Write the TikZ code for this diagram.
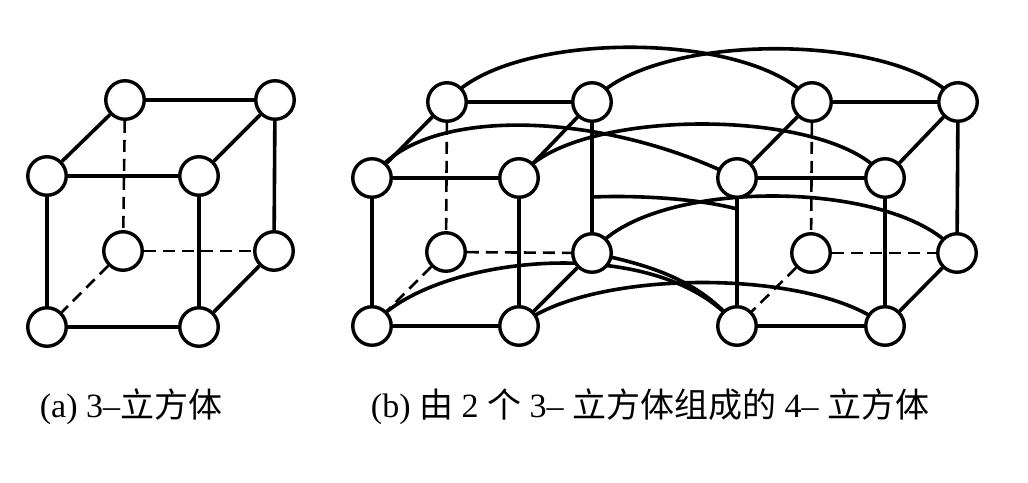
\documentclass[tikz,border=0pt]{standalone}
\usepackage{fontspec}
\setmainfont{Liberation Serif}
\newfontfamily\cjk{Noto Sans CJK SC}
\pgfdeclarelayer{bg}
\pgfsetlayers{bg,main}
\begin{document}
\begin{tikzpicture}[x=1pt,y=-1pt,
  v/.style={circle,draw,fill=white,line width=3.4pt,minimum size=38.5pt,inner sep=0pt},
  edge/.style={line width=3.6pt},
  hid/.style={line width=2.6pt,dash pattern=on 12pt off 7pt},
  arcl/.style={line width=3.6pt},
  lab/.style={font=\fontsize{34}{38}\selectfont,inner sep=0pt}]
\useasboundingbox (0,0) rectangle (1028,482);
% cube (a)
\node[v] (aFTL) at (47,176) {};
\node[v] (aFTR) at (199,176) {};
\node[v] (aFBL) at (47,327) {};
\node[v] (aFBR) at (199,327) {};
\node[v] (aBTL) at (125,100) {};
\node[v] (aBTR) at (275,100) {};
\node[v] (aBBL) at (123,251) {};
\node[v] (aBBR) at (274,251) {};
% left cube (b)
\node[v] (bBTL) at (447,102) {};
\node[v] (bBTR) at (592,102) {};
\node[v] (bFTL) at (372,178) {};
\node[v] (bFTR) at (519,178) {};
\node[v] (bBBL) at (446,252) {};
\node[v] (bBBR) at (592,253) {};
\node[v] (bFBL) at (372,326) {};
\node[v] (bFBR) at (519,326) {};
% right cube (b)
\node[v] (cBTL) at (812,102) {};
\node[v] (cBTR) at (958,102) {};
\node[v] (cFTL) at (737,178) {};
\node[v] (cFTR) at (885,178) {};
\node[v] (cBBL) at (811,253) {};
\node[v] (cBBR) at (957,253) {};
\node[v] (cFBL) at (737,326) {};
\node[v] (cFBR) at (885,326) {};
\coordinate (h1) at (592,197);
\coordinate (h2) at (737,209);
\begin{pgfonlayer}{bg}
\foreach \p in {a,b,c}{
  \draw[edge] (\p FTL) -- (\p FTR) -- (\p FBR) -- (\p FBL) -- (\p FTL);
  \draw[edge] (\p FTL) -- (\p BTL) -- (\p BTR) -- (\p FTR);
  \draw[edge] (\p BTR) -- (\p BBR) -- (\p FBR);
  \draw[hid] (\p BTL) -- (\p BBL);
  \draw[hid] (\p BBL) -- (\p BBR);
  \draw[hid] (\p BBL) -- (\p FBL);
}
% arcs joining the two cubes
\draw[arcl] (bBTL.center) .. controls (505,29) and (755,29) .. (cBTL.center);
\draw[arcl] (bBTR.center) .. controls (651,31) and (901,31) .. (cBTR.center);
\draw[arcl] (bFTL.center) .. controls (420,105) and (600,110) .. (cFTL.center);
\draw[arcl] (bFTR.center) .. controls (568,106) and (836,106) .. (cFTR.center);
\draw[arcl] (h1) .. controls (640,195) and (700,199) .. (h2);
\draw[arcl] (bBBR.center) .. controls (648,176) and (900,178) .. (cBBR.center);
\draw[arcl] (bFBL.center) .. controls (430,255) and (660,230) .. (cFBL.center);
\draw[arcl] (bBBR.center) .. controls (650,265) and (700,280) .. (cFBL.center);
\draw[arcl] (bFBR.center) .. controls (590,268) and (815,268) .. (cFBR.center);
\end{pgfonlayer}
% captions
\node[lab] (capA) at (131,407) {(a) 3–{\cjk 立方体}};
\node[lab] (capB) at (650,407) {(b) {\cjk 由} 2 {\cjk 个} 3– {\cjk 立方体组成的} 4– {\cjk 立方体}};
\end{tikzpicture}
\end{document}
